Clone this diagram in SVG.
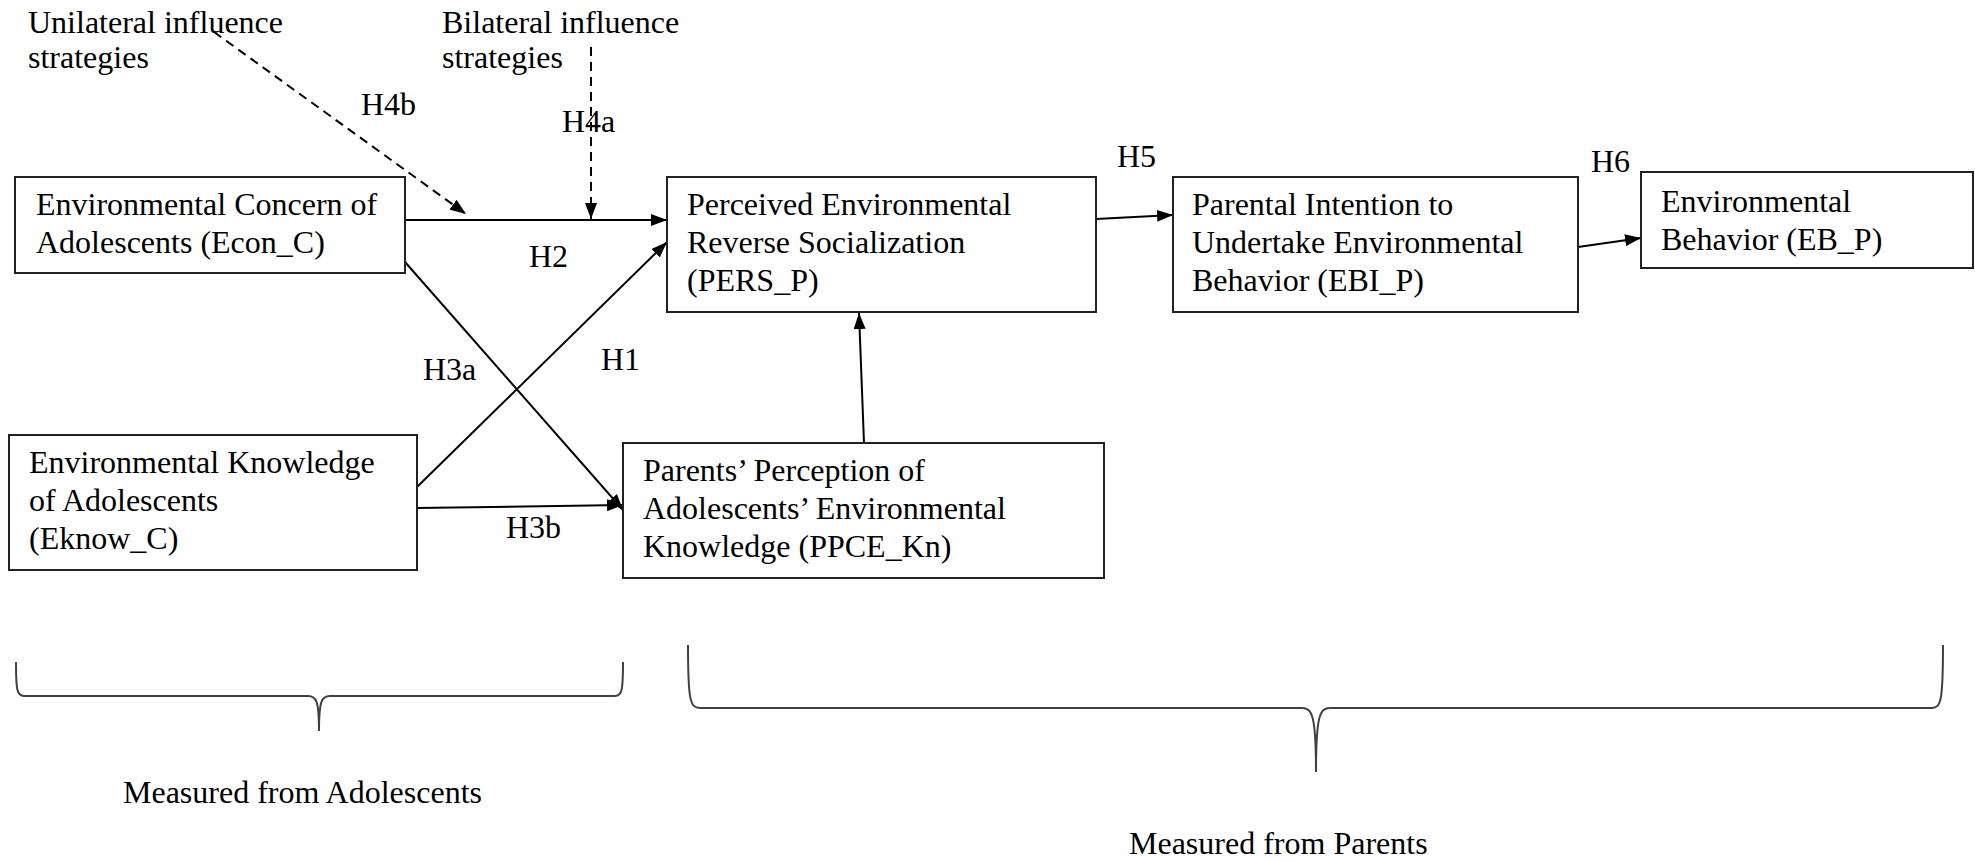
<svg xmlns="http://www.w3.org/2000/svg" width="1975" height="862" viewBox="0 0 1975 862">
<style>
text{font-family:'Liberation Serif','DejaVu Serif',serif;font-size:32px;fill:#000}
.box{fill:#fff;stroke:#222;stroke-width:2}
.ln{stroke:#000;stroke-width:2;fill:none}
.dash{stroke:#000;stroke-width:2;fill:none;stroke-dasharray:9 6}
.br{stroke:#404040;stroke-width:2;fill:none}
</style>
<defs>
<marker id="ah" viewBox="0 0 16 12" refX="16" refY="6" markerWidth="16" markerHeight="12" markerUnits="userSpaceOnUse" orient="auto">
<path d="M0,0 L16,6 L0,12 z" fill="#000"/>
</marker>
</defs>
<rect width="1975" height="862" fill="#fff"/>
<g id="connectors">
<path class="ln" d="M405,220 L667,220" marker-end="url(#ah)"/>
<path class="dash" d="M214,32 L466,214" marker-end="url(#ah)"/>
<path class="dash" d="M591,47 L591,219" marker-end="url(#ah)"/>
<path class="ln" d="M1096,219 L1173,215" marker-end="url(#ah)"/>
<path class="ln" d="M1578,247 L1641,238" marker-end="url(#ah)"/>
<path class="ln" d="M417,487 L667,242" marker-end="url(#ah)"/>
<path class="ln" d="M405,262 L623,510" marker-end="url(#ah)"/>
<path class="ln" d="M417,508 L623,505" marker-end="url(#ah)"/>
<path class="ln" d="M864,443 L859,313" marker-end="url(#ah)"/>
</g>
<g id="labels">
<text x="28" y="33">Unilateral influence</text>
<text x="28" y="68">strategies</text>
<text x="442" y="33">Bilateral influence</text>
<text x="442" y="68">strategies</text>
<text x="361" y="115">H4b</text>
<text x="562" y="132">H4a</text>
<text x="529" y="267">H2</text>
<text x="423" y="380">H3a</text>
<text x="601" y="370">H1</text>
<text x="506" y="538">H3b</text>
<text x="1117" y="167">H5</text>
<text x="1591" y="172">H6</text>
</g>
<g id="econ">
<rect class="box" x="15" y="177" width="390" height="96"/>
<text x="36" y="215">Environmental Concern of</text>
<text x="36" y="253">Adolescents (Econ_C)</text>
</g>
<g id="eknow">
<rect class="box" x="9" y="435" width="408" height="135"/>
<text x="29" y="473">Environmental Knowledge</text>
<text x="29" y="511">of Adolescents</text>
<text x="29" y="549">(Eknow_C)</text>
</g>
<g id="pers">
<rect class="box" x="667" y="177" width="429" height="135"/>
<text x="687" y="215">Perceived Environmental</text>
<text x="687" y="253">Reverse Socialization</text>
<text x="687" y="291">(PERS_P)</text>
</g>
<g id="ppce">
<rect class="box" x="623" y="443" width="481" height="135"/>
<text x="643" y="481">Parents’ Perception of</text>
<text x="643" y="519">Adolescents’ Environmental</text>
<text x="643" y="557">Knowledge (PPCE_Kn)</text>
</g>
<g id="ebi">
<rect class="box" x="1173" y="177" width="405" height="135"/>
<text x="1192" y="215">Parental Intention to</text>
<text x="1192" y="253">Undertake Environmental</text>
<text x="1192" y="291">Behavior (EBI_P)</text>
</g>
<g id="eb">
<rect class="box" x="1641" y="172" width="332" height="96"/>
<text x="1661" y="212">Environmental</text>
<text x="1661" y="250">Behavior (EB_P)</text>
</g>
<g id="bracket-adolescents">
<path class="br" d="M16,662 C16,690 17,696 24,696 L308,696 C316,696 319,700 319,731 C319,700 322,696 330,696 L615,696 C622,696 623,690 623,662"/>
<text x="123" y="803">Measured from Adolescents</text>
</g>
<g id="bracket-parents">
<path class="br" d="M688,645 C688,700 690,708 700,708 L1302,708 C1312,708 1316,715 1316,772 C1316,715 1320,708 1330,708 L1932,708 C1941,708 1943,700 1943,645"/>
<text x="1129" y="854">Measured from Parents</text>
</g>
</svg>
